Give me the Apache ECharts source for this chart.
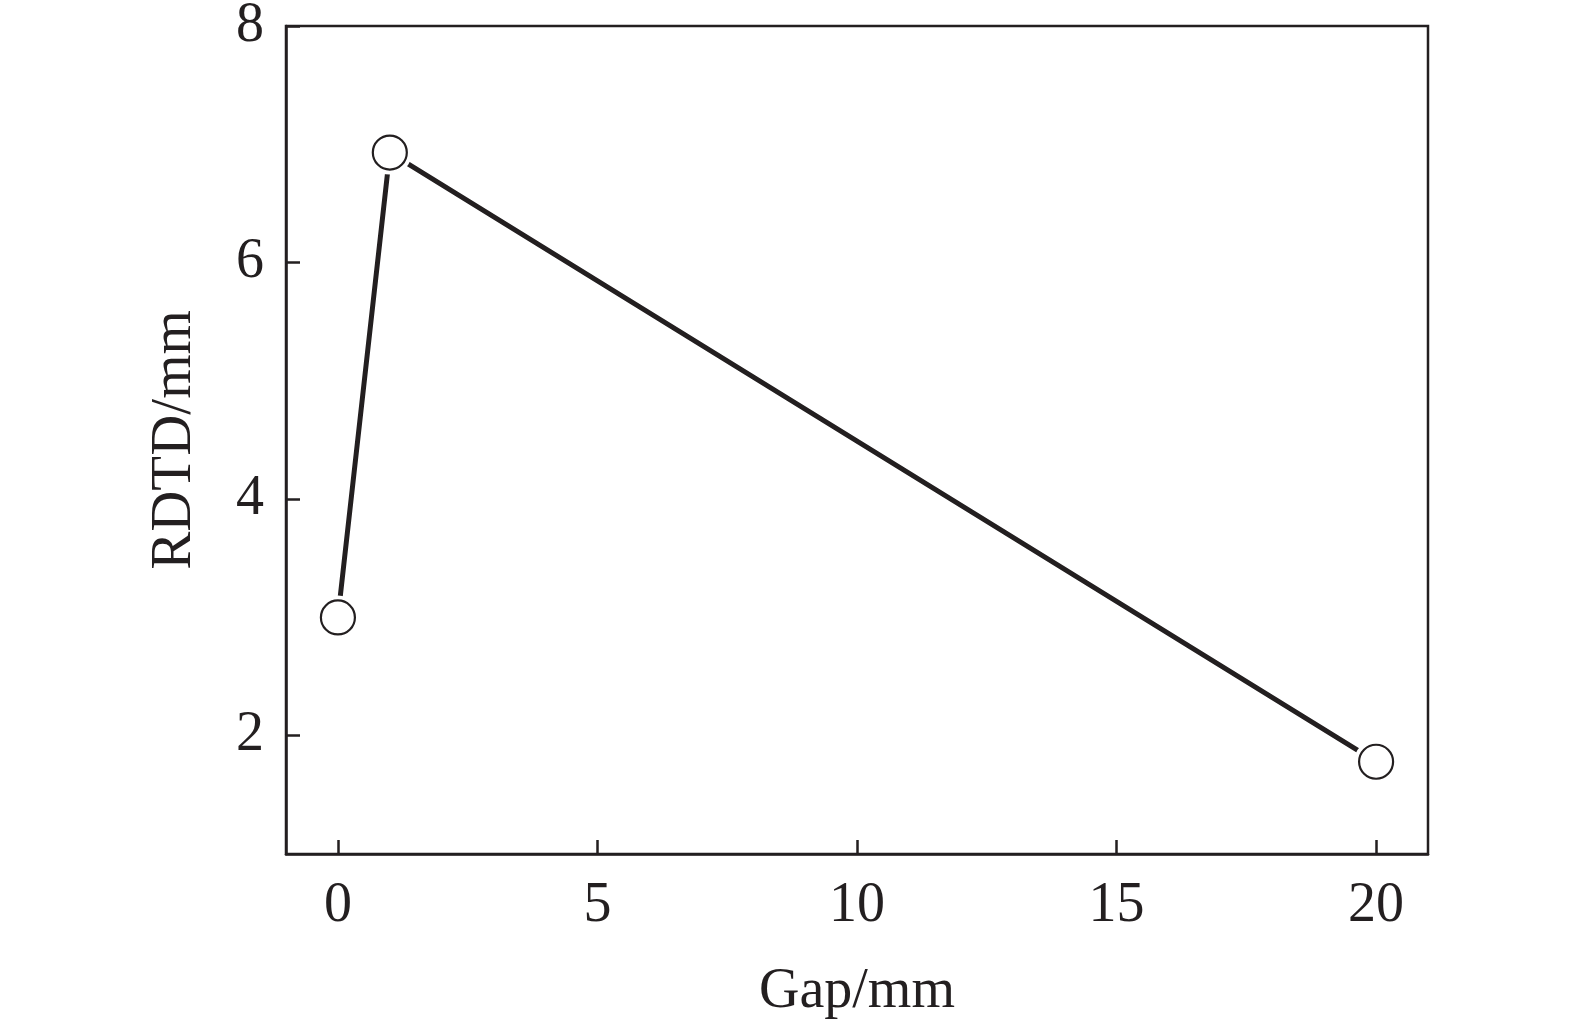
<!DOCTYPE html>
<html><head><meta charset="utf-8">
<script src="https://cdn.jsdelivr.net/npm/echarts@6/dist/echarts.min.js"></script>
<style>html,body{margin:0;padding:0;background:#fff}#c{width:1575px;height:1021px}</style>
</head><body><div id="c"></div>
<script>
const gap = [0, 1, 20];
const rdtd = [3.0, 6.93, 1.78];
const xTicks = [0, 5, 10, 15, 20];
const yTicks = [2, 4, 6, 8];
const xName = 'Gap/mm';
const yName = 'RDTD/mm';

const ink = '#231f20';
const font = 'Liberation Serif';
const pts = gap.map((g, i) => [g, rdtd[i]]);
const chart = echarts.init(document.getElementById('c'));
chart.setOption({
  animation: false,
  grid: { left: 286, top: 26, width: 1142, height: 828, outerBoundsMode: 'none', containLabel: false, show: true, borderColor: ink, borderWidth: 2.5, backgroundColor: 'transparent' },
  xAxis: {
    type: 'value', min: -1, max: 21,
    name: xName, nameLocation: 'middle', nameGap: 110,
    nameTextStyle: { fontFamily: font, fontSize: 56, color: ink },
    axisLine: { show: true, onZero: false, lineStyle: { color: ink, width: 2.5 } },
    axisTick: { show: true, inside: true, length: 14, customValues: xTicks, lineStyle: { color: ink, width: 2.5 } },
    axisLabel: { customValues: xTicks, margin: 24, fontFamily: font, fontSize: 56, color: ink },
    splitLine: { show: false }
  },
  yAxis: {
    type: 'value', min: 1, max: 8,
    name: yName, nameLocation: 'middle', nameGap: 82,
    nameTextStyle: { fontFamily: font, fontSize: 57, color: ink },
    axisLine: { show: true, onZero: false, lineStyle: { color: ink, width: 2.5 } },
    axisTick: { show: true, inside: true, length: 14, customValues: yTicks, lineStyle: { color: ink, width: 2.5 } },
    axisLabel: { customValues: yTicks, margin: 22, fontFamily: font, fontSize: 56, color: ink },
    splitLine: { show: false }
  },
  series: [
    { type: 'line', data: pts, symbol: 'none', lineStyle: { color: ink, width: 5, cap: 'round' }, z: 2 },
    { type: 'scatter', data: pts, symbol: 'circle', symbolSize: 44, itemStyle: { color: '#fff', opacity: 1 }, z: 3, silent: true },
    { type: 'scatter', data: pts, symbol: 'circle', symbolSize: 34, itemStyle: { color: '#fff', borderColor: ink, borderWidth: 2.2, opacity: 1 }, z: 4 }
  ]
});
</script></body></html>
